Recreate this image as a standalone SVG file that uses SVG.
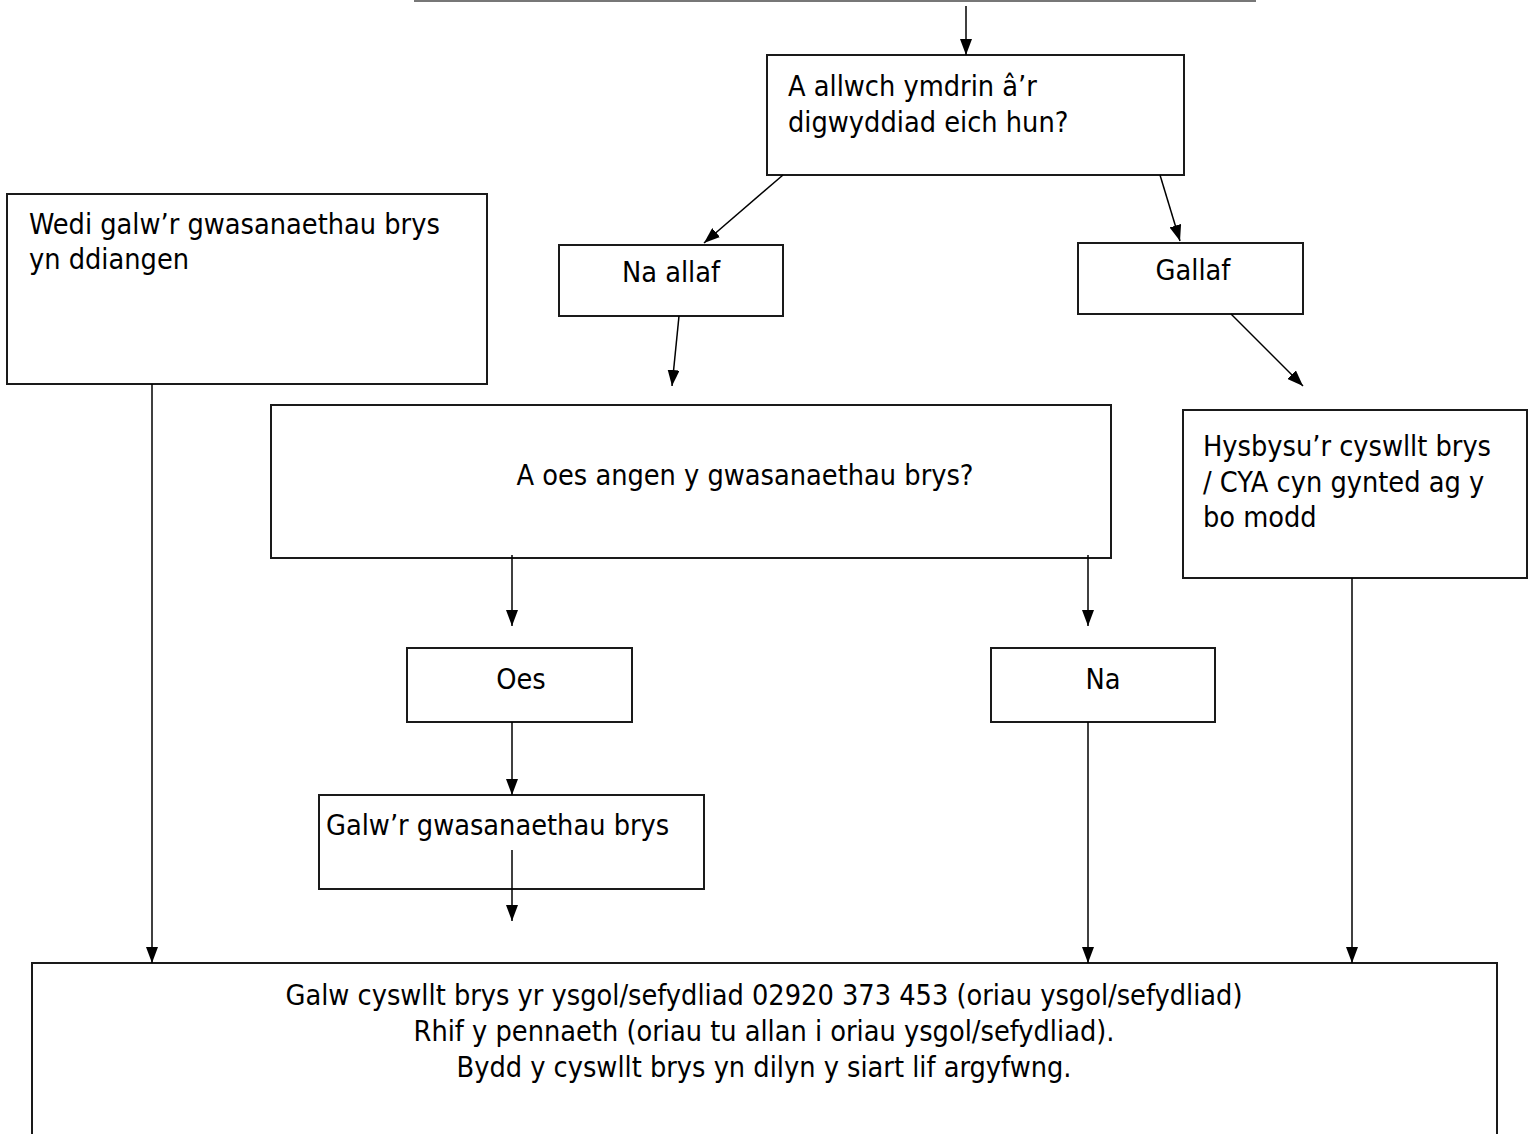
<svg xmlns="http://www.w3.org/2000/svg" width="1536" height="1134" viewBox="0 0 1536 1134">
<style>
.box{fill:#fff;stroke:#1a1a1a;stroke-width:2}
.t{font-family:"DejaVu Sans Condensed","DejaVu Sans",sans-serif;font-stretch:condensed;font-size:28.6px;fill:#000}
.c{text-anchor:middle}
.ln{stroke:#000;stroke-width:1.5;fill:none;marker-end:url(#ah)}
</style>
<defs>
<marker id="ah" markerUnits="userSpaceOnUse" markerWidth="17" markerHeight="12" refX="16" refY="6" orient="auto">
<path d="M0,0 L16,6 L0,12 Z" fill="#000"/>
</marker>
</defs>
<rect width="1536" height="1134" fill="#fff"/>
<line x1="414" y1="1" x2="1256" y2="1" stroke="#777" stroke-width="2"/>

<g id="q1">
<rect class="box" x="767" y="55" width="417" height="120"/>
<text class="t" x="788" y="96">A allwch ymdrin â’r</text>
<text class="t" x="788" y="132">digwyddiad eich hun?</text>
</g>

<g id="wedi">
<rect class="box" x="7" y="194" width="480" height="190"/>
<text class="t" x="29" y="234">Wedi galw’r gwasanaethau brys</text>
<text class="t" x="29" y="269">yn ddiangen</text>
</g>

<g id="na-allaf">
<rect class="box" x="559" y="245" width="224" height="71"/>
<text class="t c" x="671" y="282">Na allaf</text>
</g>

<g id="gallaf">
<rect class="box" x="1078" y="243" width="225" height="71"/>
<text class="t c" x="1193" y="280">Gallaf</text>
</g>

<g id="q2">
<rect class="box" x="271" y="405" width="840" height="153"/>
<text class="t c" x="745" y="485">A oes angen y gwasanaethau brys?</text>
</g>

<g id="hysbysu">
<rect class="box" x="1183" y="410" width="344" height="168"/>
<text class="t" x="1203" y="456">Hysbysu’r cyswllt brys</text>
<text class="t" x="1203" y="492">/ CYA cyn gynted ag y</text>
<text class="t" x="1203" y="527">bo modd</text>
</g>

<g id="oes">
<rect class="box" x="407" y="648" width="225" height="74"/>
<text class="t c" x="521" y="689">Oes</text>
</g>

<g id="na">
<rect class="box" x="991" y="648" width="224" height="74"/>
<text class="t c" x="1103" y="689">Na</text>
</g>

<g id="galw">
<rect class="box" x="319" y="795" width="385" height="94"/>
<text class="t" x="326" y="835">Galw’r gwasanaethau brys</text>
</g>

<g id="final">
<rect class="box" x="32" y="963" width="1465" height="190"/>
<text class="t c" x="764" y="1005">Galw cyswllt brys yr ysgol/sefydliad 02920 373 453 (oriau ysgol/sefydliad)</text>
<text class="t c" x="764" y="1041">Rhif y pennaeth (oriau tu allan i oriau ysgol/sefydliad).</text>
<text class="t c" x="764" y="1077">Bydd y cyswllt brys yn dilyn y siart lif argyfwng.</text>
</g>

<g id="connectors">
<line class="ln" x1="966" y1="6" x2="966" y2="55"/>
<line class="ln" x1="783" y1="175" x2="704" y2="243"/>
<line class="ln" x1="1160" y1="175" x2="1180" y2="241"/>
<line class="ln" x1="679" y1="316" x2="672" y2="386"/>
<line class="ln" x1="1231" y1="314" x2="1303" y2="386"/>
<line class="ln" x1="512" y1="555" x2="512" y2="626"/>
<line class="ln" x1="1088" y1="555" x2="1088" y2="626"/>
<line class="ln" x1="512" y1="722" x2="512" y2="795"/>
<line class="ln" x1="512" y1="850" x2="512" y2="921"/>
<line class="ln" x1="152" y1="384" x2="152" y2="963"/>
<line class="ln" x1="1088" y1="722" x2="1088" y2="963"/>
<line class="ln" x1="1352" y1="578" x2="1352" y2="963"/>
</g>
</svg>
